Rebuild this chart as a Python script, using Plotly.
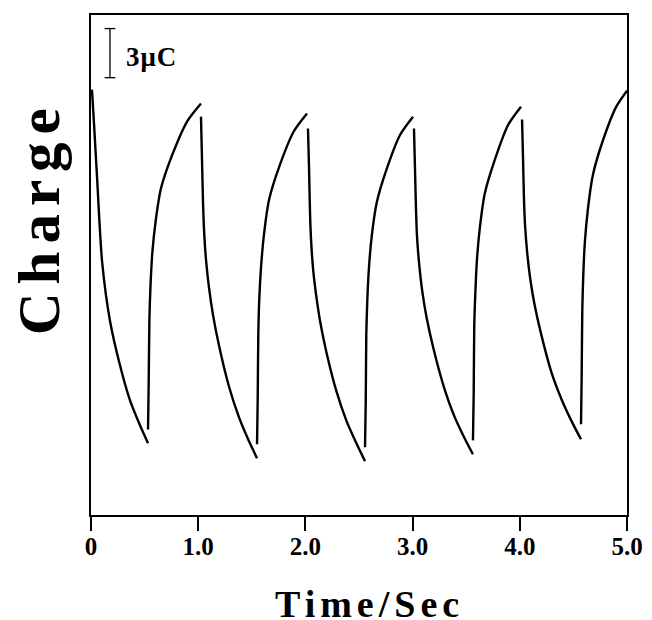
import plotly.graph_objects as go

# Charge transient (time in s, charge in µC, None = gap in trace)
time_s = [
    # decay 1
    0.009, 0.028, 0.056, 0.103, 0.177, 0.271, 0.364, 0.457, 0.532, None,
    # rise 1
    0.532, 0.538, 0.545, 0.555, 0.572, 0.603, 0.653, 0.756, 0.896, 1.026, None,
    # decay 2
    1.026, 1.035, 1.045, 1.054, 1.073, 1.101, 1.138, 1.194, 1.287, 1.381, 1.474, 1.549, None,
    # rise 2
    1.549, 1.555, 1.561, 1.570, 1.587, 1.615, 1.662, 1.757, 1.891, 2.015, None,
    # decay 3
    2.024, 2.034, 2.043, 2.052, 2.071, 2.100, 2.138, 2.195, 2.290, 2.385, 2.480, 2.556, None,
    # rise 3
    2.556, 2.563, 2.568, 2.577, 2.592, 2.620, 2.666, 2.757, 2.885, 3.004, None,
    # decay 4
    3.013, 3.022, 3.032, 3.041, 3.062, 3.091, 3.131, 3.190, 3.288, 3.386, 3.485, 3.563, None,
    # rise 4
    3.563, 3.570, 3.575, 3.585, 3.600, 3.628, 3.674, 3.765, 3.893, 4.011, None,
    # decay 5
    4.021, 4.030, 4.039, 4.049, 4.070, 4.099, 4.138, 4.198, 4.296, 4.394, 4.493, 4.571, None,
    # rise 5
    4.571, 4.577, 4.583, 4.592, 4.607, 4.635, 4.681, 4.772, 4.900, 5.000,
]
charge_uC = [
    25.99, 23.92, 20.69, 15.52, 11.87, 9.13, 7.00, 5.48, 4.38, None,
    5.23, 8.03, 11.99, 14.00, 16.01, 17.95, 19.96, 21.97, 24.04, 25.14, None,
    24.34, 21.85, 19.11, 17.47, 15.58, 13.88, 12.23, 10.35, 7.85, 5.96, 4.50, 3.47, None,
    4.32, 7.12, 11.20, 13.21, 15.22, 17.22, 19.29, 21.30, 23.43, 24.53, None,
    23.61, 21.18, 18.50, 16.92, 15.09, 13.45, 11.81, 9.98, 7.55, 5.72, 4.32, 3.29, None,
    4.14, 6.94, 11.02, 13.02, 15.03, 17.10, 19.11, 21.12, 23.25, 24.34, None,
    23.61, 21.24, 18.62, 17.04, 15.28, 13.63, 12.05, 10.29, 7.91, 6.09, 4.69, 3.71, None,
    4.56, 7.42, 11.50, 13.51, 15.58, 17.59, 19.66, 21.67, 23.86, 24.95, None,
    24.16, 21.79, 19.29, 17.71, 15.95, 14.36, 12.84, 11.08, 8.70, 7.00, 5.60, 4.63, None,
    5.54, 8.40, 12.54, 14.61, 16.68, 18.68, 20.75, 22.82, 24.95, 25.93,
]

x_tick_vals = [0, 1, 2, 3, 4, 5]
x_tick_text = ["0", "1.0", "2.0", "3.0", "4.0", "5.0"]
scale_bar_uC = 3
scale_bar_label = "3μC"
x_title = "Time/Sec"
y_title = "Charge"

SERIF = "Liberation Serif, Times New Roman, serif"
X_RANGE = [0, 5]
Y_RANGE = [0, 30.55]


def spaced(text, px):
    return '<span style="letter-spacing:%dpx">%s</span>' % (px, text)


fig = go.Figure()
fig.add_trace(go.Scatter(
    x=time_s, y=charge_uC, mode="lines",
    line=dict(color="black", width=2.4, shape="spline", smoothing=0.7),
    connectgaps=False, hoverinfo="skip", showlegend=False,
))

# scale bar (3 µC)
bar_x = 0.177
bar_top = 29.72
bar_bot = bar_top - scale_bar_uC
cap = 0.05
for seg in [(bar_x, bar_bot, bar_x, bar_top),
            (bar_x - cap, bar_top, bar_x + cap, bar_top),
            (bar_x - cap, bar_bot, bar_x + cap, bar_bot)]:
    fig.add_shape(type="line", xref="x", yref="y",
                  x0=seg[0], y0=seg[1], x1=seg[2], y1=seg[3],
                  line=dict(color="black", width=1.3))
fig.add_annotation(x=0.31, y=(bar_top + bar_bot) / 2 - 0.25, xref="x", yref="y",
                   text=spaced(scale_bar_label, 1), showarrow=False,
                   xanchor="left", yanchor="middle",
                   font=dict(family=SERIF, size=27, color="black", weight="bold"))

# y-axis title
fig.add_annotation(x=-0.097, y=0.594, xref="paper", yref="paper",
                   text=spaced(y_title, 8), showarrow=False, textangle=-90,
                   xanchor="center", yanchor="middle",
                   font=dict(family=SERIF, size=59, color="black", weight="bold"))

# x-axis title
fig.add_annotation(x=0.519, y=-0.132, xref="paper", yref="paper",
                   text=spaced(x_title, 5), showarrow=False,
                   xanchor="center", yanchor="top",
                   font=dict(family=SERIF, size=38, color="black", weight="bold"))

fig.update_xaxes(
    range=X_RANGE, tickvals=x_tick_vals, ticktext=x_tick_text,
    ticks="outside", ticklen=14, tickwidth=1.5, tickcolor="black",
    ticklabelstandoff=-6,
    showline=True, linecolor="black", linewidth=1.5, mirror=True,
    showgrid=False, zeroline=False,
    tickfont=dict(family=SERIF, size=25, color="black", weight="bold"),
)
fig.update_yaxes(
    range=Y_RANGE, showticklabels=False, ticks="",
    showline=True, linecolor="black", linewidth=1.5, mirror=True,
    showgrid=False, zeroline=False,
)
fig.update_layout(
    width=644, height=612,
    margin=dict(l=83, r=25, t=5, b=105),
    plot_bgcolor="white", paper_bgcolor="white",
)

fig.write_html("out.html")
